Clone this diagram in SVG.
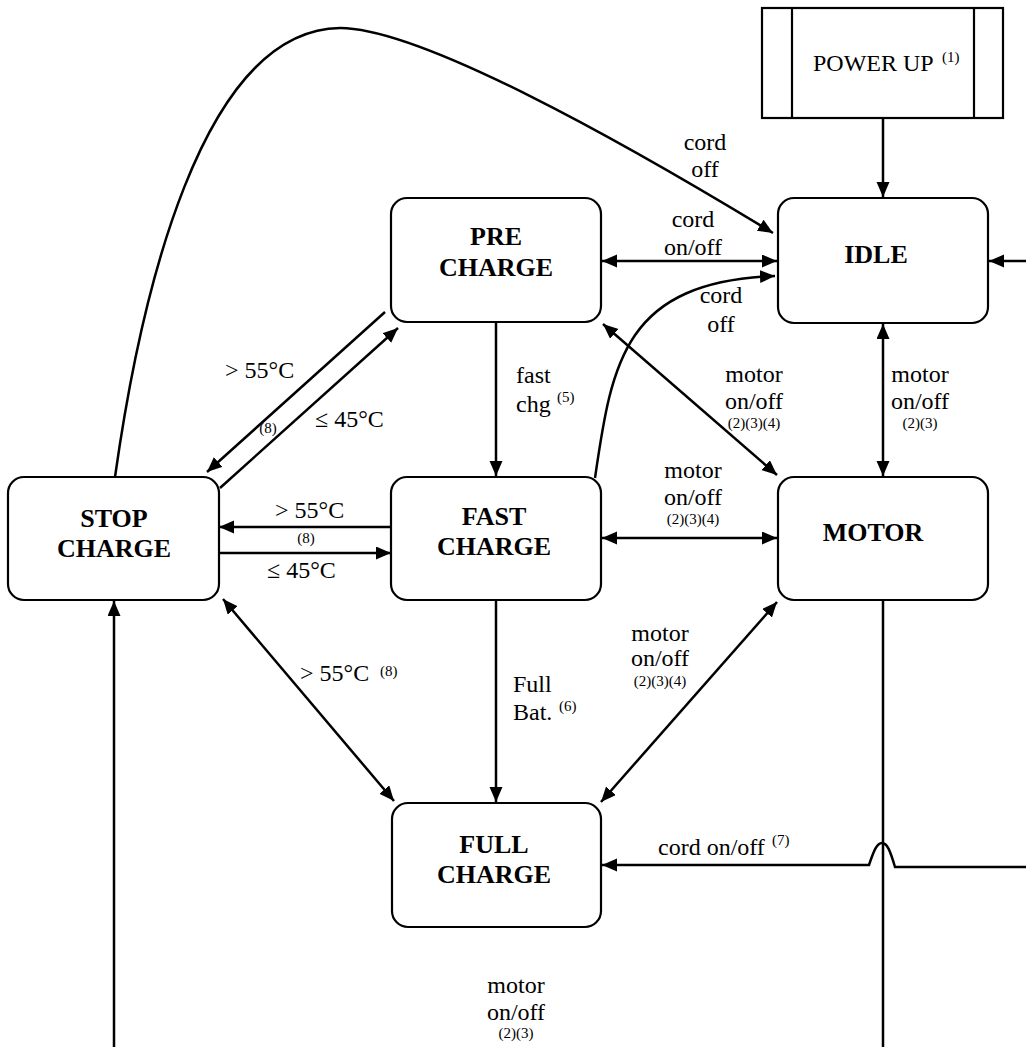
<svg xmlns="http://www.w3.org/2000/svg" width="1026" height="1047" viewBox="0 0 1026 1047">
<style>
.box{fill:#fff;stroke:#000;stroke-width:2.2}
.nt{font-family:"Liberation Serif","Times New Roman",serif;font-weight:bold;font-size:26px;text-anchor:middle;fill:#000}
.el{font-family:"Liberation Serif","Times New Roman",serif;font-size:24px;fill:#000}
.sm{font-family:"Liberation Serif","Times New Roman",serif;font-size:15px;fill:#000}
.c{text-anchor:middle}
.ln{fill:none;stroke:#000;stroke-width:2.5}
</style>
<defs>
<marker id="ah" markerUnits="userSpaceOnUse" markerWidth="16" markerHeight="14" refX="15" refY="6.5" orient="auto-start-reverse">
<path d="M0,0 L15,6.5 L0,13 z" fill="#000"/>
</marker>
</defs>
<rect width="1026" height="1047" fill="#fff"/>

<g id="connectors">
<path class="ln" d="M883,118 L883,197" marker-end="url(#ah)"/>
<path class="ln" d="M1026,261 L989,261" marker-end="url(#ah)"/>
<path class="ln" d="M602,261 L777,261" marker-start="url(#ah)" marker-end="url(#ah)"/>
<path class="ln" d="M595,478 C612,360 625,282 775,276" marker-end="url(#ah)"/>
<path class="ln" d="M115,477 C140,300 200,30 340,28 C420,28 620,140 773,233" marker-end="url(#ah)"/>
<path class="ln" d="M385,312 L207,472" marker-end="url(#ah)"/>
<path class="ln" d="M220,488 L398,328" marker-end="url(#ah)"/>
<path class="ln" d="M391,527 L219,527" marker-end="url(#ah)"/>
<path class="ln" d="M219,553 L391,553" marker-end="url(#ah)"/>
<path class="ln" d="M603,324 L777,475" marker-start="url(#ah)" marker-end="url(#ah)"/>
<path class="ln" d="M883,324 L883,476" marker-start="url(#ah)" marker-end="url(#ah)"/>
<path class="ln" d="M496,322 L496,476" marker-end="url(#ah)"/>
<path class="ln" d="M602,538 L777,538" marker-start="url(#ah)" marker-end="url(#ah)"/>
<path class="ln" d="M496,600 L496,802" marker-end="url(#ah)"/>
<path class="ln" d="M223,599 L394,801" marker-start="url(#ah)" marker-end="url(#ah)"/>
<path class="ln" d="M777,602 L601,802" marker-start="url(#ah)" marker-end="url(#ah)"/>
<path class="ln" d="M1026,867 L895,867 C890,850 887,843 882,843 C877,843 874,850 869,865 L602,865" marker-end="url(#ah)"/>
<path class="ln" d="M883,600 L883,1047"/>
<path class="ln" d="M114,1047 L114,601" marker-end="url(#ah)"/>

<text class="el c" x="705" y="150">cord</text>
<text class="el c" x="705" y="177">off</text>
<text class="el c" x="693" y="227">cord</text>
<text class="el c" x="693" y="255">on/off</text>
<text class="el c" x="721" y="303">cord</text>
<text class="el c" x="721" y="332">off</text>
<text class="el c" x="754" y="382">motor</text>
<text class="el c" x="754" y="409">on/off</text>
<text class="sm c" x="754" y="428">(2)(3)(4)</text>
<text class="el c" x="920" y="382">motor</text>
<text class="el c" x="920" y="409">on/off</text>
<text class="sm c" x="920" y="428">(2)(3)</text>
<text class="el" x="516" y="383">fast</text>
<text class="el" x="516" y="412">chg</text>
<text class="sm" x="557" y="402">(5)</text>
<text class="el" x="225" y="378">&gt; 55°C</text>
<text class="sm c" x="268" y="433">(8)</text>
<text class="el" x="315" y="427">≤ 45°C</text>
<text class="el" x="275" y="518">&gt; 55°C</text>
<text class="sm c" x="306" y="543">(8)</text>
<text class="el" x="267" y="578">≤ 45°C</text>
<text class="el c" x="693" y="478">motor</text>
<text class="el c" x="693" y="505">on/off</text>
<text class="sm c" x="693" y="524">(2)(3)(4)</text>
<text class="el" x="513" y="692">Full</text>
<text class="el" x="513" y="720">Bat.</text>
<text class="sm" x="559" y="711">(6)</text>
<text class="el" x="300" y="681">&gt; 55°C</text>
<text class="sm" x="380" y="676">(8)</text>
<text class="el c" x="660" y="641">motor</text>
<text class="el c" x="660" y="666">on/off</text>
<text class="sm c" x="660" y="686">(2)(3)(4)</text>
<text class="el" x="658" y="855">cord on/off</text>
<text class="sm" x="772" y="845">(7)</text>
<text class="el c" x="516" y="993">motor</text>
<text class="el c" x="516" y="1020">on/off</text>
<text class="sm c" x="516" y="1038">(2)(3)</text>
</g>

<g id="power-up">
<rect class="box" x="762" y="8" width="241" height="110"/>
<line class="box" x1="792" y1="8" x2="792" y2="118"/>
<line class="box" x1="974" y1="8" x2="974" y2="118"/>
<text class="el" x="813" y="71">POWER UP</text>
<text class="sm" x="942" y="62">(1)</text>
</g>

<g id="idle">
<rect class="box" x="778" y="198" width="210" height="125" rx="16"/>
<text class="nt" x="876" y="263">IDLE</text>
</g>

<g id="pre-charge">
<rect class="box" x="391" y="198" width="210" height="124" rx="16"/>
<text class="nt" x="496" y="245">PRE</text>
<text class="nt" x="496" y="276">CHARGE</text>
</g>

<g id="stop-charge">
<rect class="box" x="8" y="477" width="211" height="123" rx="16"/>
<text class="nt" x="114" y="527">STOP</text>
<text class="nt" x="114" y="557">CHARGE</text>
</g>

<g id="fast-charge">
<rect class="box" x="391" y="477" width="210" height="123" rx="16"/>
<text class="nt" x="494" y="525">FAST</text>
<text class="nt" x="494" y="555">CHARGE</text>
</g>

<g id="motor">
<rect class="box" x="778" y="477" width="210" height="123" rx="16"/>
<text class="nt" x="873" y="541">MOTOR</text>
</g>

<g id="full-charge">
<rect class="box" x="392" y="803" width="209" height="124" rx="16"/>
<text class="nt" x="494" y="853">FULL</text>
<text class="nt" x="494" y="883">CHARGE</text>
</g>
</svg>
